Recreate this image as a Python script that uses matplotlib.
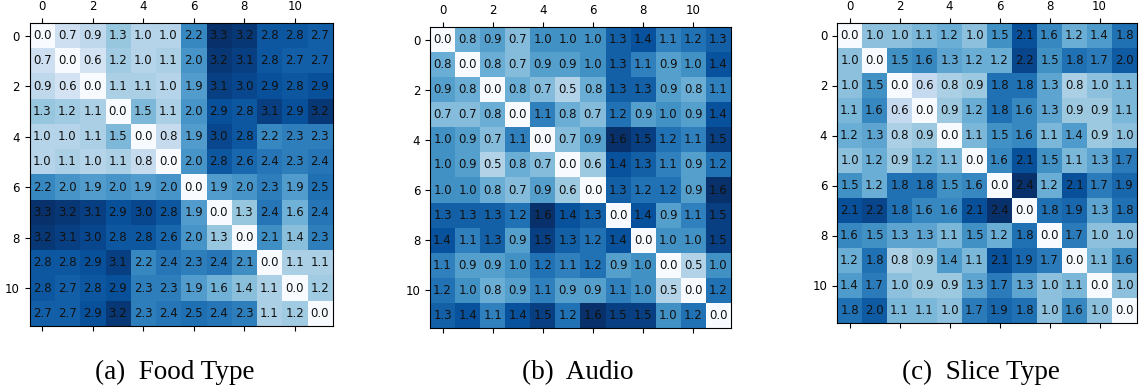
import numpy as np
import matplotlib
matplotlib.use("Agg")
import matplotlib.pyplot as plt

# distance matrices (values as printed in the cells)
food_type = [
    [0.0, 0.7, 0.9, 1.3, 1.0, 1.0, 2.2, 3.3, 3.2, 2.8, 2.8, 2.7],
    [0.7, 0.0, 0.6, 1.2, 1.0, 1.1, 2.0, 3.2, 3.1, 2.8, 2.7, 2.7],
    [0.9, 0.6, 0.0, 1.1, 1.1, 1.0, 1.9, 3.1, 3.0, 2.9, 2.8, 2.9],
    [1.3, 1.2, 1.1, 0.0, 1.5, 1.1, 2.0, 2.9, 2.8, 3.1, 2.9, 3.2],
    [1.0, 1.0, 1.1, 1.5, 0.0, 0.8, 1.9, 3.0, 2.8, 2.2, 2.3, 2.3],
    [1.0, 1.1, 1.0, 1.1, 0.8, 0.0, 2.0, 2.8, 2.6, 2.4, 2.3, 2.4],
    [2.2, 2.0, 1.9, 2.0, 1.9, 2.0, 0.0, 1.9, 2.0, 2.3, 1.9, 2.5],
    [3.3, 3.2, 3.1, 2.9, 3.0, 2.8, 1.9, 0.0, 1.3, 2.4, 1.6, 2.4],
    [3.2, 3.1, 3.0, 2.8, 2.8, 2.6, 2.0, 1.3, 0.0, 2.1, 1.4, 2.3],
    [2.8, 2.8, 2.9, 3.1, 2.2, 2.4, 2.3, 2.4, 2.1, 0.0, 1.1, 1.1],
    [2.8, 2.7, 2.8, 2.9, 2.3, 2.3, 1.9, 1.6, 1.4, 1.1, 0.0, 1.2],
    [2.7, 2.7, 2.9, 3.2, 2.3, 2.4, 2.5, 2.4, 2.3, 1.1, 1.2, 0.0],
]

audio = [
    [0.0, 0.8, 0.9, 0.7, 1.0, 1.0, 1.0, 1.3, 1.4, 1.1, 1.2, 1.3],
    [0.8, 0.0, 0.8, 0.7, 0.9, 0.9, 1.0, 1.3, 1.1, 0.9, 1.0, 1.4],
    [0.9, 0.8, 0.0, 0.8, 0.7, 0.5, 0.8, 1.3, 1.3, 0.9, 0.8, 1.1],
    [0.7, 0.7, 0.8, 0.0, 1.1, 0.8, 0.7, 1.2, 0.9, 1.0, 0.9, 1.4],
    [1.0, 0.9, 0.7, 1.1, 0.0, 0.7, 0.9, 1.6, 1.5, 1.2, 1.1, 1.5],
    [1.0, 0.9, 0.5, 0.8, 0.7, 0.0, 0.6, 1.4, 1.3, 1.1, 0.9, 1.2],
    [1.0, 1.0, 0.8, 0.7, 0.9, 0.6, 0.0, 1.3, 1.2, 1.2, 0.9, 1.6],
    [1.3, 1.3, 1.3, 1.2, 1.6, 1.4, 1.3, 0.0, 1.4, 0.9, 1.1, 1.5],
    [1.4, 1.1, 1.3, 0.9, 1.5, 1.3, 1.2, 1.4, 0.0, 1.0, 1.0, 1.5],
    [1.1, 0.9, 0.9, 1.0, 1.2, 1.1, 1.2, 0.9, 1.0, 0.0, 0.5, 1.0],
    [1.2, 1.0, 0.8, 0.9, 1.1, 0.9, 0.9, 1.1, 1.0, 0.5, 0.0, 1.2],
    [1.3, 1.4, 1.1, 1.4, 1.5, 1.2, 1.6, 1.5, 1.5, 1.0, 1.2, 0.0],
]

slice_type = [
    [0.0, 1.0, 1.0, 1.1, 1.2, 1.0, 1.5, 2.1, 1.6, 1.2, 1.4, 1.8],
    [1.0, 0.0, 1.5, 1.6, 1.3, 1.2, 1.2, 2.2, 1.5, 1.8, 1.7, 2.0],
    [1.0, 1.5, 0.0, 0.6, 0.8, 0.9, 1.8, 1.8, 1.3, 0.8, 1.0, 1.1],
    [1.1, 1.6, 0.6, 0.0, 0.9, 1.2, 1.8, 1.6, 1.3, 0.9, 0.9, 1.1],
    [1.2, 1.3, 0.8, 0.9, 0.0, 1.1, 1.5, 1.6, 1.1, 1.4, 0.9, 1.0],
    [1.0, 1.2, 0.9, 1.2, 1.1, 0.0, 1.6, 2.1, 1.5, 1.1, 1.3, 1.7],
    [1.5, 1.2, 1.8, 1.8, 1.5, 1.6, 0.0, 2.4, 1.2, 2.1, 1.7, 1.9],
    [2.1, 2.2, 1.8, 1.6, 1.6, 2.1, 2.4, 0.0, 1.8, 1.9, 1.3, 1.8],
    [1.6, 1.5, 1.3, 1.3, 1.1, 1.5, 1.2, 1.8, 0.0, 1.7, 1.0, 1.0],
    [1.2, 1.8, 0.8, 0.9, 1.4, 1.1, 2.1, 1.9, 1.7, 0.0, 1.1, 1.6],
    [1.4, 1.7, 1.0, 0.9, 0.9, 1.3, 1.7, 1.3, 1.0, 1.1, 0.0, 1.0],
    [1.8, 2.0, 1.1, 1.1, 1.0, 1.7, 1.9, 1.8, 1.0, 1.6, 1.0, 0.0],
]

captions = ["(a)  Food Type", "(b)  Audio", "(c)  Slice Type"]

W, H = 1140, 388
fig = plt.figure(figsize=(W / 100, H / 100), dpi=100)

# axes boxes in pixels: left, top, width, height; caption centre x
boxes = [(29, 23, 304, 303), (430, 27, 301, 301), (836, 23, 302, 300)]
caption_x = [175, 578, 981]


def draw_matrix(ax, mat):
    mat = np.array(mat)
    ax.matshow(mat, cmap="Blues", vmin=0, vmax=mat.max())
    for i in range(mat.shape[0]):
        for j in range(mat.shape[1]):
            ax.text(j, i, f"{mat[i, j]:.1f}", ha="center", va="center",
                    fontsize=8.5, color="#111111")
    ax.tick_params(labelsize=8.5, length=3.5)
    ax.set_xticks(range(0, 12, 2))
    ax.set_yticks(range(0, 12, 2))


for mat, cap, (l, t, w, h), cx in zip([food_type, audio, slice_type], captions, boxes, caption_x):
    ax = fig.add_axes([l / W, (H - t - h) / H, w / W, h / H])
    draw_matrix(ax, mat)
    fig.text(cx / W, (H - 379) / H, cap, ha="center", va="baseline",
             fontsize=19.5, family="Liberation Serif")

fig.savefig("out.png", dpi=100)
